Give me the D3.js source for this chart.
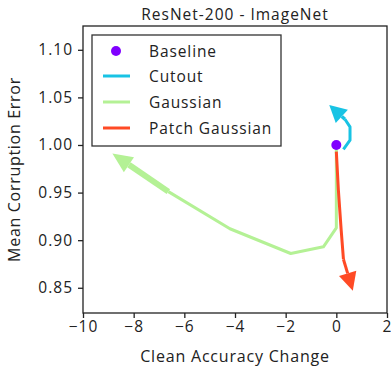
<!DOCTYPE html>
<html><head><meta charset="utf-8">
<script src="https://cdn.jsdelivr.net/npm/d3@7"></script>
<style>body{margin:0;background:#fff}svg{display:block}text{font-family:"Open Sans",sans-serif;fill:#222}</style>
</head><body><svg id="c" width="391" height="366"></svg>
<script>
const title = "ResNet-200 - ImageNet";
const xLabel = "Clean Accuracy Change";
const yLabel = "Mean Corruption Error";
const xTicks = [-10, -8, -6, -4, -2, 0, 2];
const yTicks = [0.85, 0.90, 0.95, 1.00, 1.05, 1.10];
const baseline = [0, 1.00];
const cutout = [[0.28, 0.9955], [0.54, 1.005], [0.54, 1.019], [0.34, 1.027], [-0.28, 1.042]];
const gaussian = [[0, 1.00], [0, 0.913], [-0.51, 0.893], [-1.80, 0.886], [-4.20, 0.912], [-6.63, 0.951], [-8.84, 0.991]];
const patchGaussian = [[0, 0.993], [0.08, 0.953], [0.19, 0.911], [0.28, 0.880], [0.65, 0.847]];
const seriesNames = ["Baseline", "Cutout", "Gaussian", "Patch Gaussian"];
const colors = ["#8000ff", "#18c3e4", "#b4f195", "#ff4a25"];

const svg = d3.select("#c");
const L = 83, R = 387, T = 26, B = 313;
const x = d3.scaleLinear().domain([-10, 2]).range([L, R]);
const y = d3.scaleLinear().domain([0.8235, 1.125]).range([B, T]);

// axes
const xa = svg.append("g").attr("transform", `translate(0,${B})`)
  .call(d3.axisBottom(x).tickValues(xTicks).tickSize(5).tickPadding(3).tickFormat(d => d < 0 ? "\u2212" + Math.abs(d) : d));
const ya = svg.append("g").attr("transform", `translate(${L},0)`)
  .call(d3.axisLeft(y).tickValues(yTicks).tickSize(5).tickPadding(5).tickFormat(d3.format(".2f")));
[xa, ya].forEach(g => {
  g.select(".domain").remove();
  g.selectAll("line").attr("stroke", "#222").attr("stroke-width", 1.3);
  g.selectAll("text").style("font-size", "15.5px").style("letter-spacing", "1px").attr("fill", "#222");
});
svg.append("rect").attr("x", L).attr("y", T).attr("width", R - L).attr("height", B - T)
  .attr("fill", "none").attr("stroke", "#222").attr("stroke-width", 1.3);

svg.append("text").attr("x", (L + R) / 2).attr("y", 20).attr("text-anchor", "middle")
  .style("font-size", "15.5px").style("letter-spacing", "1px").text(title);
svg.append("text").attr("x", (L + R) / 2).attr("y", 362).attr("text-anchor", "middle")
  .style("font-size", "16px").style("letter-spacing", "0.8px").text(xLabel);
svg.append("text").attr("transform", `translate(20,${(T + B) / 2}) rotate(-90)`).attr("text-anchor", "middle")
  .style("font-size", "16px").style("letter-spacing", "0.7px").text(yLabel);

const line = d3.line().x(d => x(d[0])).y(d => y(d[1]));
function arrowSeries(pts, color, hl, hw, shaftW) {
  const n = pts.length;
  const tip = [x(pts[n - 1][0]), y(pts[n - 1][1])];
  const prev = [x(pts[n - 2][0]), y(pts[n - 2][1])];
  const dx = tip[0] - prev[0], dy = tip[1] - prev[1];
  const len = Math.hypot(dx, dy), ux = dx / len, uy = dy / len;
  const base = [tip[0] - ux * hl, tip[1] - uy * hl];
  const body = pts.slice(0, n - 1);
  svg.append("path").attr("d", line(body)).attr("fill", "none").attr("stroke", color)
    .attr("stroke-width", 3).attr("stroke-linejoin", "round");
  svg.append("path").attr("d", d3.line()([prev, base])).attr("fill", "none").attr("stroke", color)
    .attr("stroke-width", shaftW);
  svg.append("path").attr("d", d3.line()([tip, [base[0] - uy * hw / 2, base[1] + ux * hw / 2], [base[0] + uy * hw / 2, base[1] - ux * hw / 2]]) + "Z")
    .attr("fill", color);
}
arrowSeries(gaussian, colors[2], 20, 18, 6);
arrowSeries(patchGaussian, colors[3], 18, 18, 3);
arrowSeries(cutout, colors[1], 17, 18, 3.5);
svg.append("circle").attr("cx", x(baseline[0])).attr("cy", y(baseline[1])).attr("r", 5).attr("fill", colors[0]);

// legend
const lg = svg.append("g");
lg.append("rect").attr("x", 92).attr("y", 35).attr("width", 189).attr("height", 111)
  .attr("fill", "#fff").attr("stroke", "#333").attr("stroke-width", 1.3);
const ly = [51, 76, 102, 128];
seriesNames.forEach((s, i) => {
  if (i === 0) lg.append("circle").attr("cx", 116).attr("cy", ly[i]).attr("r", 5).attr("fill", colors[i]);
  else lg.append("line").attr("x1", 103).attr("x2", 130).attr("y1", ly[i]).attr("y2", ly[i]).attr("stroke", colors[i]).attr("stroke-width", 3);
  lg.append("text").attr("x", 149).attr("y", ly[i] + 5.5).style("font-size", "15.5px").style("letter-spacing", "0.9px").text(s);
});
</script></body></html>
